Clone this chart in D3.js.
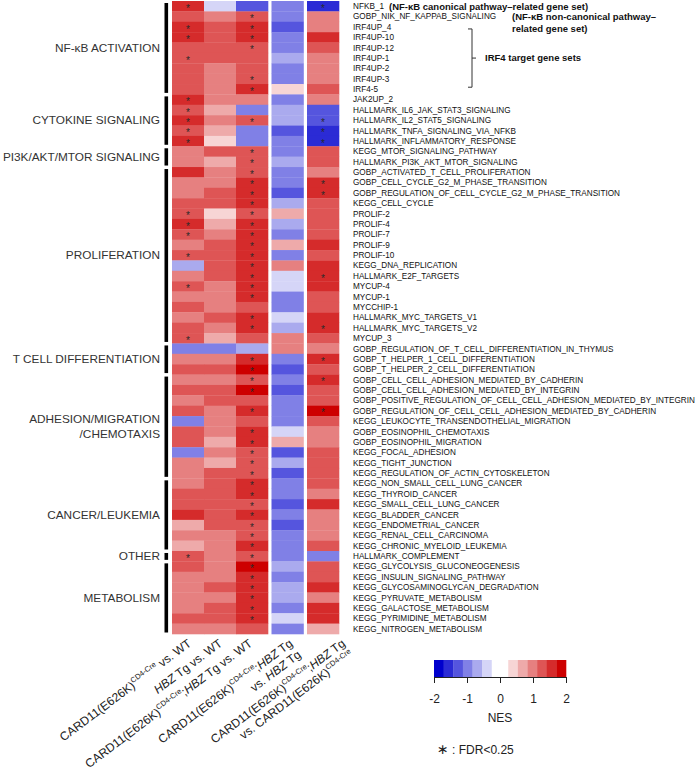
<!DOCTYPE html>
<html>
<head>
<meta charset="utf-8">
<script src="https://cdn.jsdelivr.net/npm/d3@7"></script>
<style>
  html, body { margin: 0; padding: 0; background: #fff; }
  svg { display: block; font-family: 'Liberation Sans', Arial, sans-serif; }
</style>
</head>
<body>
<div id="chart"></div>
<script>
// gene sets, top to bottom
const geneSets = [
  'NFKB_1', 'GOBP_NIK_NF_KAPPAB_SIGNALING', 'IRF4UP_4', 'IRF4UP-10', 'IRF4UP-12', 'IRF4UP-1', 'IRF4UP-2', 'IRF4UP-3', 'IRF4-5',
  'JAK2UP_2', 'HALLMARK_IL6_JAK_STAT3_SIGNALING', 'HALLMARK_IL2_STAT5_SIGNALING', 'HALLMARK_TNFA_SIGNALING_VIA_NFKB', 'HALLMARK_INFLAMMATORY_RESPONSE',
  'KEGG_MTOR_SIGNALING_PATHWAY', 'HALLMARK_PI3K_AKT_MTOR_SIGNALING',
  'GOBP_ACTIVATED_T_CELL_PROLIFERATION', 'GOBP_CELL_CYCLE_G2_M_PHASE_TRANSITION', 'GOBP_REGULATION_OF_CELL_CYCLE_G2_M_PHASE_TRANSITION',
  'KEGG_CELL_CYCLE', 'PROLIF-2', 'PROLIF-4', 'PROLIF-7', 'PROLIF-9', 'PROLIF-10', 'KEGG_DNA_REPLICATION', 'HALLMARK_E2F_TARGETS',
  'MYCUP-4', 'MYCUP-1', 'MYCCHIP-1', 'HALLMARK_MYC_TARGETS_V1', 'HALLMARK_MYC_TARGETS_V2', 'MYCUP_3',
  'GOBP_REGULATION_OF_T_CELL_DIFFERENTIATION_IN_THYMUS', 'GOBP_T_HELPER_1_CELL_DIFFERENTIATION', 'GOBP_T_HELPER_2_CELL_DIFFERENTIATION',
  'GOBP_CELL_CELL_ADHESION_MEDIATED_BY_CADHERIN', 'GOBP_CELL_CELL_ADHESION_MEDIATED_BY_INTEGRIN',
  'GOBP_POSITIVE_REGULATION_OF_CELL_CELL_ADHESION_MEDIATED_BY_INTEGRIN', 'GOBP_REGULATION_OF_CELL_CELL_ADHESION_MEDIATED_BY_CADHERIN',
  'KEGG_LEUKOCYTE_TRANSENDOTHELIAL_MIGRATION', 'GOBP_EOSINOPHIL_CHEMOTAXIS', 'GOBP_EOSINOPHIL_MIGRATION', 'KEGG_FOCAL_ADHESION',
  'KEGG_TIGHT_JUNCTION', 'KEGG_REGULATION_OF_ACTIN_CYTOSKELETON',
  'KEGG_NON_SMALL_CELL_LUNG_CANCER', 'KEGG_THYROID_CANCER', 'KEGG_SMALL_CELL_LUNG_CANCER', 'KEGG_BLADDER_CANCER',
  'KEGG_ENDOMETRIAL_CANCER', 'KEGG_RENAL_CELL_CARCINOMA', 'KEGG_CHRONIC_MYELOID_LEUKEMIA',
  'HALLMARK_COMPLEMENT',
  'KEGG_GLYCOLYSIS_GLUCONEOGENESIS', 'KEGG_INSULIN_SIGNALING_PATHWAY', 'KEGG_GLYCOSAMINOGLYCAN_DEGRADATION', 'KEGG_PYRUVATE_METABOLISM',
  'KEGG_GALACTOSE_METABOLISM', 'KEGG_PYRIMIDINE_METABOLISM', 'KEGG_NITROGEN_METABOLISM'
];

const groupNames = ['NF-κB ACTIVATION', 'CYTOKINE SIGNALING', 'PI3K/AKT/MTOR SIGNALING', 'PROLIFERATION',
  'T CELL DIFFERENTIATION', 'ADHESION/MIGRATION|/CHEMOTAXIS', 'CANCER/LEUKEMIA', 'OTHER', 'METABOLISM'];
const groupSizes = [9, 5, 2, 17, 3, 10, 7, 1, 7];

const comparisons = ['card11', 'hbz', 'double', 'doubleVsHbz', 'doubleVsCard11'];

// NES per comparison
const nesCard11 = [
  1.6, 1.3, 1.6, 1.6, 1.3, 1.3, 1.3, 1.3, 1.3,
  1.6, 1.3, 1.6, 1.3, 1.6,
  1.0, 1.0,
  1.6, 1.0, 1.0, 1.3, 1.3, 1.6, 1.3, 1.0, 1.3, -0.7, 1.0, 1.3, 1.0, 1.3, 1.0, 1.3, 1.3,
  -1.0, 1.0, 1.3,
  1.0, 1.3, 1.0, 1.3, -1.0, 1.3, 1.3, -1.0, 1.0, 1.0,
  1.0, 1.3, 1.3, 1.6, 0.7, 1.0, 0.7,
  1.3,
  1.3, 1.0, 1.0, 1.0, 1.0, 1.3, 1.0
];
const nesHbz = [
  -0.4, 1.0, 1.3, 1.3, 1.3, 1.3, 1.0, 1.0, 1.0,
  1.0, 0.7, 1.0, 0.7, 0.4,
  1.3, 0.7,
  1.0, 1.0, 1.3, 1.3, 0.4, 0.7, 1.0, 1.3, 1.3, 1.3, 1.3, 1.0, 1.0, 1.0, 1.3, 1.0, 0.7,
  -1.0, 1.0, 1.3,
  1.0, 1.3, 1.3, 1.0, 1.0, 1.0, 0.7, 1.0, 0.7, 1.3,
  1.3, 1.3, 1.3, 1.3, 1.3, 1.0, 1.0,
  1.0,
  1.0, 1.0, 1.3, 1.0, 1.3, 1.3, 1.0
];
const nesDouble = [
  -1.3, 1.3, 1.6, 1.6, 1.3, 1.3, 1.3, 1.3, 1.6,
  1.0, -1.0, 1.3, -1.0, -1.0,
  1.3, 1.3,
  1.3, 1.6, 1.6, 1.6, 1.3, 1.6, 1.6, 1.6, 1.6, 1.6, 1.6, 1.6, 1.6, 1.3, 1.6, 1.6, 1.3,
  -0.7, 1.6, 1.9,
  1.3, 1.9, 1.3, 1.6, 1.3, 1.6, 1.6, 1.3, 1.3, 1.3,
  1.6, 1.6, 1.3, 1.6, 1.3, 1.3, 1.6,
  1.3,
  1.9, 1.6, 1.6, 1.6, 1.6, 1.6, 1.3
];
const nesDoubleVsHbz = [
  -1.0, -1.0, -1.3, -1.0, -1.0, -0.7, -1.0, -1.0, 0.4,
  -1.0, -0.7, -0.7, -1.3, -1.0,
  -1.0, -0.7,
  -1.0, -1.0, -1.3, -0.7, 0.7, -0.7, -1.0, 0.7, -1.0, 1.0, -0.4, -0.4, -1.0, -1.0, -0.4, -0.7, 1.0,
  1.0, -1.0, -1.3,
  -1.0, -1.3, -1.0, -1.0, -1.0, -0.4, 0.7, -1.3, -0.7, -1.3,
  -1.0, -1.0, -1.3, -1.0, -1.3, -1.0, -1.0,
  -1.0,
  -0.7, -1.0, -0.7, -0.7, -1.0, -0.4, -1.0
];
const nesDoubleVsCard11 = [
  -1.6, 1.0, 1.0, 1.6, 1.3, 1.0, 1.0, 1.0, 1.3,
  1.0, -1.3, -1.3, -1.6, -1.6,
  1.3, 1.3,
  1.0, 1.6, 1.6, 1.3, 1.3, 1.3, 1.3, 1.6, 1.3, 1.6, 1.6, 1.6, 1.3, 1.3, 1.6, 1.6, 1.3,
  1.0, 1.6, 1.3,
  1.6, 1.3, 1.3, 1.9, 1.3, 1.0, 1.0, 1.3, 1.3, 1.3,
  1.3, 1.0, 1.6, 1.0, 1.0, 1.0, 1.3,
  -1.0,
  1.3, 1.3, 1.6, 1.0, 1.6, 1.6, 0.7
];

// row indices with FDR < 0.25
const fdrCard11 = [0, 2, 3, 5, 9, 10, 11, 12, 13, 20, 21, 22, 24, 27, 32, 53];
const fdrHbz = [];
const fdrDouble = [1, 2, 3, 4, 7, 8, 11, 14, 15, 16, 17, 18, 19, 20, 21, 22, 23, 24, 25, 26, 27, 28, 30, 31,
  34, 35, 36, 37, 39, 41, 42, 43, 44, 45, 46, 47, 48, 49, 50, 51, 52, 53, 54, 55, 56, 57, 58, 59];
const fdrDoubleVsHbz = [];
const fdrDoubleVsCard11 = [0, 11, 12, 13, 17, 18, 26, 31, 34, 36, 39];

// column labels: lines of [text, style] pieces
const comparisonLabels = [
  [[['CARD11(E626K)', ''], ['CD4-Cre', 'sup'], [' vs. WT', '']]],
  [[['HBZ', 'it'], [' Tg vs. WT', '']]],
  [[['CARD11(E626K)', ''], ['CD4-Cre', 'sup'], [';', ''], ['HBZ', 'it'], [' Tg vs. WT', '']]],
  [[['CARD11(E626K)', ''], ['CD4-Cre', 'sup'], [';', ''], ['HBZ', 'it'], [' Tg', '']],
   [['vs. ', ''], ['HBZ', 'it'], [' Tg', '']]],
  [[['CARD11(E626K)', ''], ['CD4-Cre', 'sup'], [';', ''], ['HBZ', 'it'], [' Tg', '']],
   [['vs. CARD11(E626K)', ''], ['CD4-Cre', 'sup']]]
];

const legendTicks = [-2, -1, 0, 1, 2];
const nesBreaks = [-1.708, -1.417, -1.125, -0.833, -0.542, -0.25, 0.25, 0.542, 0.833, 1.125, 1.417, 1.708];

const nesColumns = [nesCard11, nesHbz, nesDouble, nesDoubleVsHbz, nesDoubleVsCard11];
const fdrColumns = [fdrCard11, fdrHbz, fdrDouble, fdrDoubleVsHbz, fdrDoubleVsCard11];

const cells = [];
comparisons.forEach((c, ci) => {
  geneSets.forEach((g, gi) => {
    cells.push({ comparison: c, geneSet: g, nes: nesColumns[ci][gi], sig: fdrColumns[ci].includes(gi) });
  });
});

const width = 698;
const height = 775;
const heatLeft = 172;
const heatTop = 1;
const heatBottom = 634;
const cellW = 32;
const colGap = 3.5;

const svg = d3.select('#chart')
  .append('svg')
  .attr('width', width)
  .attr('height', height);

const y = d3.scaleBand().domain(geneSets).range([heatTop, heatBottom]);
const xBand = d3.scaleBand().domain(comparisons).range([heatLeft, heatLeft + cellW * comparisons.length]);
const colX = c => xBand(c) + Math.max(0, comparisons.indexOf(c) - 2) * colGap;

const palette = [
  ...d3.range(6).map(i => d3.interpolateRgb('#0000cd', '#ffffff')(i / 6)),
  '#ffffff',
  ...d3.range(1, 7).map(i => d3.interpolateRgb('#ffffff', '#cd0000')(i / 6))
];
const color = d3.scaleThreshold().domain(nesBreaks).range(palette);

// heatmap cells
svg.append('g')
  .selectAll('rect')
  .data(cells)
  .enter()
  .append('rect')
  .attr('x', d => colX(d.comparison))
  .attr('y', d => y(d.geneSet))
  .attr('width', xBand.bandwidth() + 0.3)
  .attr('height', y.bandwidth() + 0.3)
  .attr('fill', d => color(d.nes));

svg.append('g')
  .selectAll('text')
  .data(cells.filter(d => d.sig))
  .enter()
  .append('text')
  .attr('x', d => colX(d.comparison) + xBand.bandwidth() / 2)
  .attr('y', d => y(d.geneSet) + y.bandwidth() / 2 + 5.6)
  .attr('text-anchor', 'middle')
  .attr('font-size', 10)
  .attr('fill', '#2a2a2a')
  .text('*');

// row labels
svg.append('g')
  .selectAll('text')
  .data(geneSets)
  .enter()
  .append('text')
  .attr('x', 353)
  .attr('y', d => y(d) + y.bandwidth() / 2)
  .attr('dy', '0.35em')
  .attr('font-size', 8.2)
  .attr('fill', '#111')
  .text(d => d);

// group bars and names
let start = 0;
const groups = groupNames.map((name, i) => {
  const g = { name, first: geneSets[start], last: geneSets[start + groupSizes[i] - 1] };
  start += groupSizes[i];
  return g;
});

svg.append('g')
  .selectAll('rect')
  .data(groups)
  .enter()
  .append('rect')
  .attr('x', 164.5)
  .attr('width', 3.6)
  .attr('y', d => y(d.first) + 2)
  .attr('height', d => y(d.last) + y.bandwidth() - 1.5 - (y(d.first) + 2))
  .attr('fill', '#000');

const groupLabels = svg.append('g')
  .selectAll('text')
  .data(groups)
  .enter()
  .append('text')
  .attr('text-anchor', 'end')
  .attr('font-size', 11.8)
  .attr('fill', '#333')
  .attr('y', d => (y(d.first) + y(d.last) + y.bandwidth()) / 2);

groupLabels.each(function(d) {
  const lines = d.name.split('|');
  const t = d3.select(this);
  lines.forEach((line, i) => {
    t.append('tspan')
      .attr('x', 160)
      .attr('dy', i === 0 ? `${0.35 - (lines.length - 1) * 0.62}em` : '1.24em')
      .text(line);
  });
});

// annotations on the right
const rowMid = g => y(g) + y.bandwidth() / 2;
const notes = svg.append('g')
  .attr('font-size', 9.5)
  .attr('font-weight', 'bold')
  .attr('fill', '#111');

notes.append('text')
  .attr('x', 389)
  .attr('y', rowMid('NFKB_1'))
  .attr('dy', '0.35em')
  .text('(NF-κB canonical pathway–related gene set)');

notes.append('text')
  .attr('x', 512)
  .attr('y', rowMid('GOBP_NIK_NF_KAPPAB_SIGNALING'))
  .attr('dy', '0.35em')
  .text('(NF-κB non-canonical pathway–');

notes.append('text')
  .attr('x', 512)
  .attr('y', rowMid('GOBP_NIK_NF_KAPPAB_SIGNALING') + 12)
  .attr('dy', '0.35em')
  .text('related gene set)');

const bTop = rowMid('IRF4UP_4') + 2;
const bBottom = rowMid('IRF4-5') - 2;
const bMid = (bTop + bBottom) / 2;

notes.append('path')
  .attr('d', `M468,${bTop}H472V${bBottom}H468M472,${bMid}H476`)
  .attr('fill', 'none')
  .attr('stroke', '#333')
  .attr('stroke-width', 1);

notes.append('text')
  .attr('x', 485)
  .attr('y', bMid)
  .attr('dy', '0.35em')
  .text('IRF4 target gene sets');

// rotated column labels
const labelShift = [4, 3, 1, 6, 23];
const labelAngle = -37;

comparisons.forEach((c, i) => {
  const g = svg.append('g')
    .attr('transform', `translate(${colX(c) + xBand.bandwidth() / 2 + labelShift[i]},645) rotate(${labelAngle})`);
  comparisonLabels[i].forEach((line, li) => {
    const t = g.append('text')
      .attr('y', li * 14)
      .attr('text-anchor', 'end')
      .attr('font-size', 12)
      .attr('fill', '#222');
    let shifted = false;
    line.forEach(([txt, style]) => {
      const s = t.append('tspan').text(txt);
      if (style === 'sup') {
        s.attr('font-size', 7.5).attr('dy', -5);
        shifted = true;
      } else {
        if (shifted) { s.attr('dy', 5); shifted = false; }
        if (style === 'it') s.attr('font-style', 'italic');
      }
    });
  });
});

// legend
const legendX = d3.scaleLinear().domain([-2, 2]).range([434, 566]);
const edges = [-2, ...nesBreaks, 2];
const legend = svg.append('g');

legend.selectAll('rect')
  .data(palette)
  .enter()
  .append('rect')
  .attr('x', (d, i) => legendX(edges[i]))
  .attr('y', 660)
  .attr('width', (d, i) => legendX(edges[i + 1]) - legendX(edges[i]) + 0.3)
  .attr('height', 17)
  .attr('fill', d => d);

const legendAxis = legend.append('g')
  .attr('transform', 'translate(0,677)')
  .call(d3.axisBottom(legendX).tickValues(legendTicks).tickFormat(d => String(d)).tickSize(6).tickSizeOuter(0).tickPadding(11));

legendAxis.selectAll('text').attr('font-size', 12).attr('fill', '#222').attr('font-family', null);
legendAxis.selectAll('line, path').attr('stroke', '#222');

legend.append('text')
  .attr('x', legendX(0))
  .attr('y', 721.5)
  .attr('text-anchor', 'middle')
  .attr('font-size', 12)
  .attr('fill', '#222')
  .text('NES');

const fdrNote = legend.append('text')
  .attr('x', 437)
  .attr('y', 753.5)
  .attr('font-size', 12)
  .attr('fill', '#222');
fdrNote.append('tspan').attr('font-family', 'DejaVu Sans').attr('font-size', 14).text('∗');
fdrNote.append('tspan').text(' : FDR<0.25');
</script>
</body>
</html>
